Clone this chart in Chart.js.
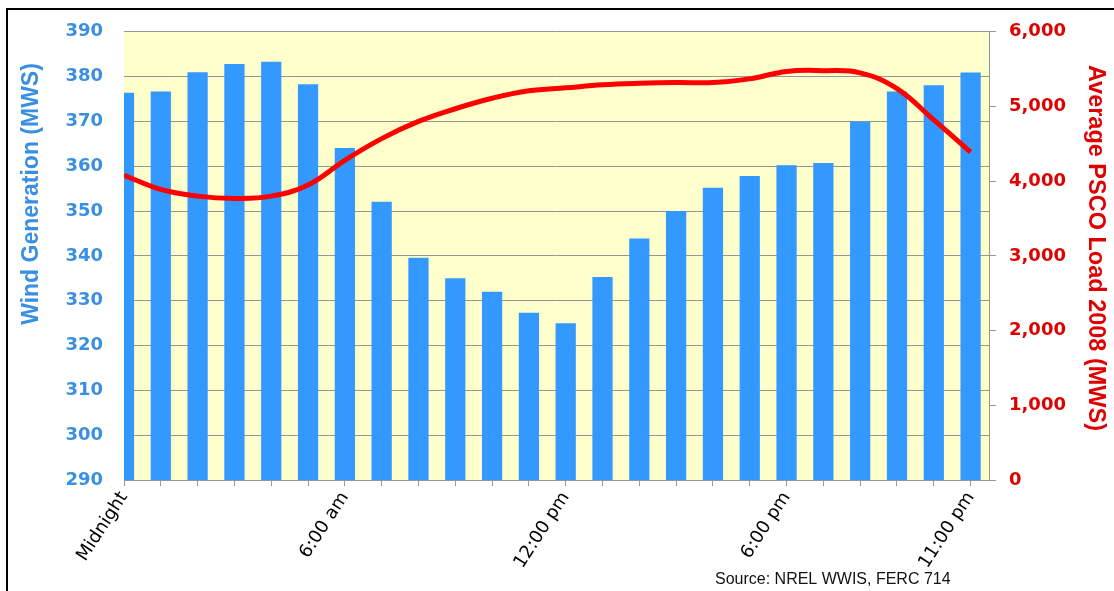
<!DOCTYPE html>
<html>
<head>
<meta charset="utf-8">
<script src="https://cdn.jsdelivr.net/npm/chart.js@4"></script>
<style>
  html, body { margin: 0; padding: 0; background: #fff; }
  #wrap { position: relative; width: 1114px; height: 591px; }
</style>
</head>
<body>
<div id="wrap"><canvas id="windChart" width="1114" height="591"></canvas></div>
<script>
// hours of the day, 0 = midnight
const hours = [0, 1, 2, 3, 4, 5, 6, 7, 8, 9, 10, 11, 12, 13, 14, 15, 16, 17, 18, 19, 20, 21, 22, 23];
const windGen = [376.4, 376.7, 381.0, 382.8, 383.3, 378.3, 364.1, 352.1, 339.6, 335.0, 332.0, 327.3,
                 325.0, 335.3, 343.9, 350.0, 355.2, 357.8, 360.2, 360.7, 370.0, 376.7, 378.1, 380.9];
const psCoLoad = [4080, 3890, 3800, 3770, 3800, 3950, 4280, 4570, 4800, 4970, 5110, 5210,
                  5250, 5290, 5310, 5320, 5320, 5370, 5470, 5480, 5450, 5240, 4820, 4390];
const labelHours = [0, 6, 12, 18, 23];
const labelTexts = ['Midnight', '6:00 am', '12:00 pm', '6:00 pm', '11:00 pm'];

const BLUE = '#3b8fe2';
const RED = '#e00000';
const GRID = '#969696';

// yellow plot area, black frame, axis titles and the source note
const decorations = {
    id: 'decorations',
    beforeDraw(chart) {
        const { ctx, chartArea: a } = chart;
        ctx.save();
        ctx.fillStyle = '#fff';
        ctx.fillRect(0, 0, chart.width, chart.height);
        ctx.fillStyle = '#ffffcc';
        ctx.fillRect(a.left, a.top, a.right - a.left, a.bottom - a.top);
        ctx.restore();
    },
    afterDraw(chart) {
        const ctx = chart.ctx;
        ctx.save();
        ctx.strokeStyle = '#000';
        ctx.lineWidth = 2;
        ctx.beginPath();
        ctx.moveTo(7, chart.height);
        ctx.lineTo(7, 9);
        ctx.lineTo(chart.width, 9);
        ctx.stroke();

        ctx.textAlign = 'center';
        ctx.textBaseline = 'middle';
        ctx.font = 'bold 23px "Liberation Sans", Arial, sans-serif';
        // left title, reads bottom to top
        ctx.save();
        ctx.translate(32, 194);
        ctx.rotate(-Math.PI / 2);
        ctx.fillStyle = BLUE;
        ctx.fillText('Wind Generation (MWS)', 0, 0);
        ctx.restore();
        // right title, reads top to bottom
        ctx.save();
        ctx.translate(1095, 248);
        ctx.rotate(Math.PI / 2);
        ctx.fillStyle = RED;
        ctx.font = 'bold 23.5px "Liberation Sans", Arial, sans-serif';
        ctx.fillText('Average PSCO Load 2008 (MWS)', 0, 0);
        ctx.restore();

        ctx.fillStyle = '#111';
        ctx.font = '16px "Liberation Sans", Arial, sans-serif';
        ctx.textAlign = 'left';
        ctx.fillText('Source: NREL WWIS, FERC 714', 715, 580);
        ctx.restore();
    }
};

new Chart(document.getElementById('windChart'), {
    type: 'bar',
    data: {
        datasets: [
            {
                type: 'line',
                label: 'Average PSCO Load 2008',
                data: hours.map((h, i) => ({ x: h, y: psCoLoad[i] })),
                yAxisID: 'yLoad',
                borderColor: '#ff0000',
                borderWidth: 5,
                tension: 0.4,
                pointRadius: 0,
                fill: false,
                order: 0
            },
            {
                label: 'Wind Generation',
                data: hours.map((h, i) => ({ x: h, y: windGen[i] })),
                yAxisID: 'yWind',
                backgroundColor: '#3399ff',
                borderWidth: 0,
                barPercentage: 0.55,
                categoryPercentage: 1,
                clip: 0,
                order: 1
            }
        ]
    },
    options: {
        responsive: false,
        animation: false,
        layout: { padding: { left: 8, right: 0, top: 30, bottom: 0 } },
        plugins: {
            legend: { display: false },
            tooltip: { enabled: false }
        },
        scales: {
            x: {
                type: 'linear',
                offset: false,
                min: 0,
                max: 23.5,
                afterBuildTicks: scale => { scale.ticks = hours.map(h => ({ value: h })); },
                afterFit: scale => { scale.height = 111; },
                grid: { offset: false, drawOnChartArea: false, color: GRID, tickLength: 6 },
                border: { color: GRID },
                ticks: {
                    autoSkip: false,
                    minRotation: 57,
                    maxRotation: 57,
                    padding: 2,
                    color: '#000',
                    font: { family: '"DejaVu Sans"', size: 18 },
                    callback: v => {
                        const k = labelHours.indexOf(v);
                        return k >= 0 ? labelTexts[k] : '';
                    }
                }
            },
            yWind: {
                position: 'left',
                min: 290,
                max: 390,
                afterFit: scale => { scale.width = 116; },
                grid: { color: GRID, drawTicks: false },
                border: { display: false },
                ticks: {
                    stepSize: 10,
                    padding: 21,
                    color: BLUE,
                    font: { family: '"DejaVu Sans"', size: 18, weight: 'bold' }
                }
            },
            yLoad: {
                position: 'right',
                min: 0,
                max: 6000,
                afterFit: scale => { scale.width = 125; },
                grid: { drawOnChartArea: false, color: GRID, tickLength: 7 },
                border: { color: GRID },
                ticks: {
                    stepSize: 1000,
                    padding: 13,
                    color: RED,
                    font: { family: '"DejaVu Sans"', size: 18, weight: 'bold' },
                    callback: v => v.toLocaleString('en-US')
                }
            }
        }
    },
    plugins: [decorations]
});
</script>
</body>
</html>
